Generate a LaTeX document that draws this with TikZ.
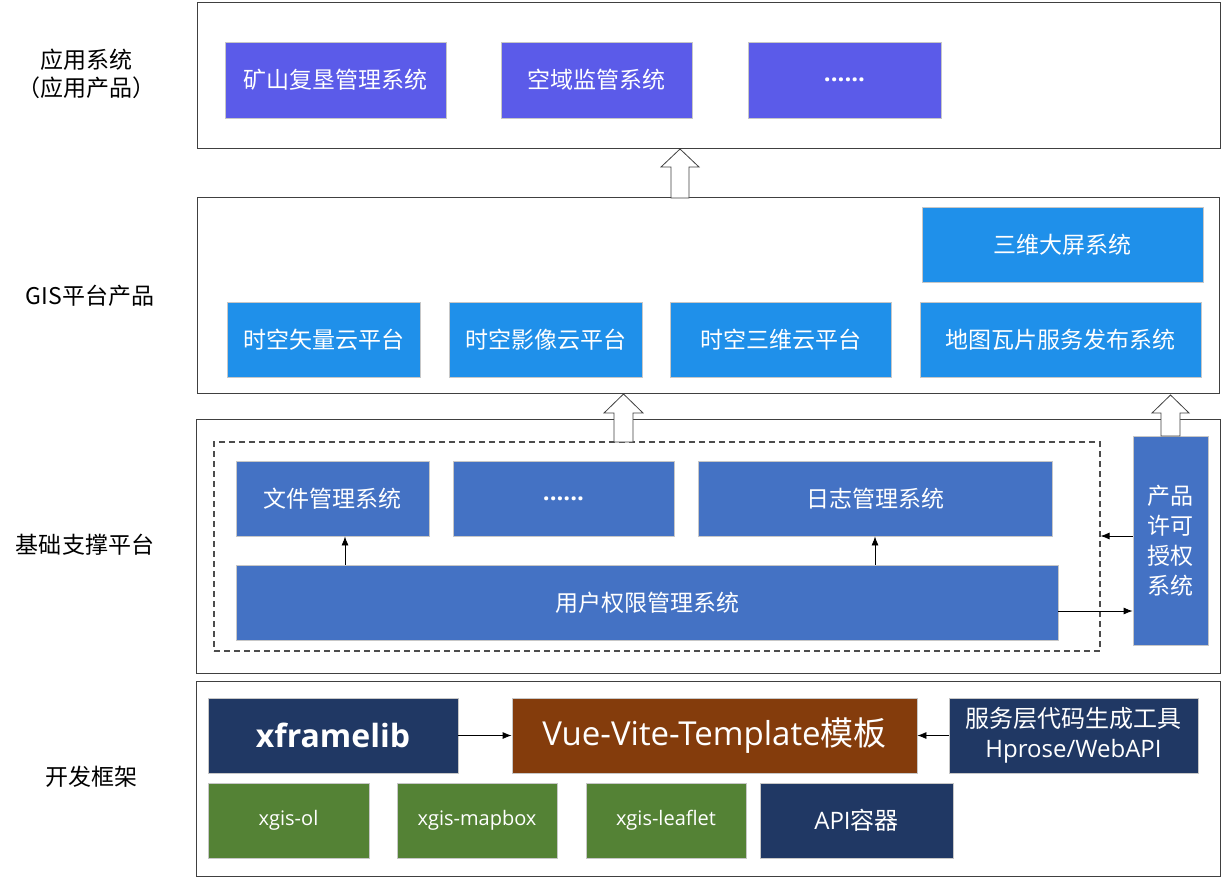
\documentclass[tikz,border=0pt]{standalone}
\usepackage{fontspec}
\setmainfont{Noto Sans CJK SC}
\newfontfamily\osans{Open Sans}
\usetikzlibrary{arrows.meta}

\definecolor{appcol}{HTML}{5B5BE9}
\definecolor{giscol}{HTML}{1F90EA}
\definecolor{basecol}{HTML}{4472C4}
\definecolor{navycol}{HTML}{203864}
\definecolor{browncol}{HTML}{843C0C}
\definecolor{greencol}{HTML}{548235}

\tikzset{
 layer/.style={draw=black!75, line width=1pt, inner sep=0pt},
 sidelabel/.style={align=center, font=\fontsize{23}{28}\selectfont},
 box/.style={draw=black!22, line width=0.8pt, text=white, inner sep=0pt, align=center, font=\fontsize{23}{30}\selectfont},
 appbox/.style={box, fill=appcol},
 gisbox/.style={box, fill=giscol},
 basebox/.style={box, fill=basecol},
 navybox/.style={box, fill=navycol},
 brownbox/.style={box, fill=browncol},
 greenbox/.style={box, fill=greencol},
 dotsfont/.style={font=\osans\bfseries\fontsize{24}{28}\selectfont},
 conn/.style={-{Latex[length=9pt,width=7pt]}, line width=0.8pt},
 hollow/.style={draw=black!75, fill=white, line width=0.8pt}
}

\begin{document}
\begin{tikzpicture}[x=1pt,y=-1pt]
\useasboundingbox (0,0) rectangle (1222,878);

% layers
\node[layer, minimum width=1023, minimum height=146] (L1) at (708.5,75) {};
\node[layer, minimum width=1022, minimum height=196] (L2) at (708,295) {};
\node[layer, minimum width=1024, minimum height=254] (L3) at (708,546) {};
\node[layer, minimum width=1024, minimum height=195] (L4) at (708,778.5) {};

% side labels
\node[sidelabel] (yy) at (86,74) {应用系统\\（应用产品）};
\node[sidelabel] (gis) at (90,296) {GIS平台产品};
\node[sidelabel] (jc) at (85,545) {基础支撑平台};
\node[sidelabel] (kf) at (91,777) {开发框架};

% application products
\node[appbox, minimum width=221, minimum height=76] (ks) at (335.5,80) {矿山复垦管理系统};
\node[appbox, minimum width=191, minimum height=76] (ky) at (596.5,80) {空域监管系统};
\node[appbox, dotsfont, minimum width=193, minimum height=76] (dots1) at (844.5,80) {......};

% GIS platform products
\node[gisbox, minimum width=281, minimum height=75] (sw) at (1062.5,244.5) {三维大屏系统};
\node[gisbox, minimum width=193, minimum height=75] (sl) at (323.5,339.5) {时空矢量云平台};
\node[gisbox, minimum width=193, minimum height=75] (sy) at (545.5,339.5) {时空影像云平台};
\node[gisbox, minimum width=221, minimum height=75] (ss) at (780.5,339.5) {时空三维云平台};
\node[gisbox, minimum width=281, minimum height=75] (dt) at (1060.5,339.5) {地图瓦片服务发布系统};

% base platform
\node[draw=black!70, dash pattern=on 6pt off 4pt, line width=1.1pt, minimum width=886, minimum height=209] (dash) at (657,546.5) {};
\node[basebox, minimum width=193, minimum height=75] (wj) at (332.5,498.5) {文件管理系统};
\node[basebox, dotsfont, minimum width=221, minimum height=75] (dots2) at (563.5,498.5) {......};
\node[basebox, minimum width=354, minimum height=75] (rz) at (875,498.5) {日志管理系统};
\node[basebox, minimum width=822, minimum height=75] (yh) at (647,602.5) {用户权限管理系统};
\node[basebox, minimum width=75, minimum height=209] (cp) at (1170.5,540.5) {产品\\许可\\授权\\系统};

% framework
\node[navybox, minimum width=250, minimum height=75, font=\osans\bfseries\fontsize{32}{36}\selectfont] (xf) at (333,735.5) {xframelib};
\node[brownbox, minimum width=405, minimum height=75, font=\fontsize{33}{36}\selectfont] (vue) at (714.5,735.5) {{\osans Vue-Vite-Template}模板};
\node[navybox, minimum width=249, minimum height=75, font=\fontsize{24}{30}\selectfont] (fw) at (1073.5,735.5) {服务层代码生成工具\\{\osans Hprose/WebAPI}};
\node[greenbox, minimum width=161, minimum height=75, font=\osans\fontsize{20}{24}\selectfont] (ol) at (288.5,820.5) {xgis-ol};
\node[greenbox, minimum width=160, minimum height=75, font=\osans\fontsize{20}{24}\selectfont] (mb) at (477,820.5) {xgis-mapbox};
\node[greenbox, minimum width=160, minimum height=75, font=\osans\fontsize{20}{24}\selectfont] (lf) at (666,820.5) {xgis-leaflet};
\node[navybox, minimum width=193, minimum height=75, font=\fontsize{24}{30}\selectfont] (api) at (856.5,820.5) {{\osans API}容器};

% hollow arrows between layers
\draw[hollow] (671,198) -- (671,167) -- (661,167) -- (680,149) -- (699,167) -- (689,167) -- (689,198) -- cycle;
\draw[hollow] (614,442) -- (614,413) -- (604,413) -- (623.5,394) -- (643,413) -- (633,413) -- (633,442) -- cycle;
\draw[hollow] (1161,436) -- (1161,413) -- (1152,413) -- (1170.5,395) -- (1189,413) -- (1180,413) -- (1180,436) -- cycle;

% connectors
\coordinate (c1) at (345,0);
\coordinate (c2) at (0,611);
\coordinate (c3) at (0,536);
\draw[conn] (yh.north -| c1) -- (wj.south -| c1);
\draw[conn] (yh.north -| rz.south) -- (rz.south);
\draw[conn] (yh.east |- c2) -- (cp.west |- c2);
\draw[conn] (cp.west |- c3) -- (dash.east |- c3);
\draw[conn] (xf.east) -- (vue.west);
\draw[conn] (fw.west) -- (vue.east);
\end{tikzpicture}
\end{document}
